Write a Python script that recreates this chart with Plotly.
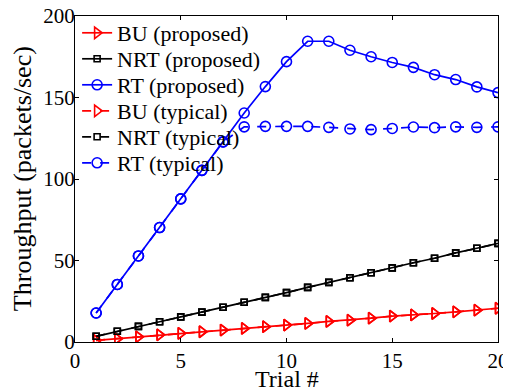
import plotly.graph_objects as go

trials = list(range(1, 21))
bu_proposed = [1.0, 2.0, 3.2, 4.4, 5.3, 6.3, 7.3, 8.3, 9.4, 10.4, 11.4, 12.6, 13.4, 14.6, 15.9, 16.6, 17.5, 18.5, 19.5, 20.7]
nrt_proposed = [3.5, 6.6, 9.6, 12.4, 15.4, 18.3, 21.3, 24.4, 27.4, 30.3, 33.5, 36.6, 39.4, 42.5, 45.5, 48.6, 51.4, 54.7, 57.5, 60.5]
rt_proposed = [17.8, 35.3, 52.8, 70.2, 87.8, 105.3, 122.8, 140.5, 156.7, 172.0, 184.5, 184.5, 179.0, 175.0, 171.5, 168.5, 164.0, 161.0, 156.5, 153.0]
bu_typical = bu_proposed[:]
nrt_typical = nrt_proposed[:]
rt_typical = [17.8, 35.3, 52.8, 70.2, 87.8, 105.3, 122.8, 132.0, 132.3, 132.3, 132.3, 131.7, 130.7, 130.3, 131.0, 131.9, 131.5, 132.0, 131.7, 132.0]

x_title = "Trial #"
y_title = "Throughput (packets/sec)"
x_ticks = [0, 5, 10, 15, 20]
y_ticks = [0, 50, 100, 150, 200]

font_family = "Liberation Serif"

# (name, values, color, symbol, dash, legend row 0..5)
series = [
    ("BU (typical)", bu_typical, "red", "triangle-right-open", "dash", 3),
    ("NRT (typical)", nrt_typical, "black", "square-open", "dash", 4),
    ("RT (typical)", rt_typical, "blue", "circle-open", "dash", 5),
    ("BU (proposed)", bu_proposed, "red", "triangle-right-open", "solid", 0),
    ("NRT (proposed)", nrt_proposed, "black", "square-open", "solid", 1),
    ("RT (proposed)", rt_proposed, "blue", "circle-open", "solid", 2),
]

fig = go.Figure()
for name, vals, color, sym, dash, row in series:
    size = 10 if "circle" in sym else (10 if "triangle" in sym else 6)
    lg = "legend" if row == 0 else "legend%d" % (row + 1)
    fig.add_trace(go.Scatter(
        x=trials, y=vals, name=name, mode="lines+markers",
        line=dict(color=color, width=1.7, dash=dash),
        marker=dict(symbol=sym, size=size, color=color, line=dict(width=1.6, color=color)),
        legend=lg,
    ))

axis_common = dict(
    showline=True, linecolor="black", linewidth=1.2, mirror="ticks",
    ticks="inside", ticklen=4, tickcolor="black", showgrid=False, zeroline=False,
    automargin=False, ticklabeloverflow="allow",
    tickfont=dict(family=font_family, size=21, color="black"),
)

plot_top, plot_bottom = 16, 342
legend_layout = {}
for row in range(6):
    yc = 33.0 + 26 * row
    key = "legend" if row == 0 else "legend%d" % (row + 1)
    legend_layout[key] = dict(
        x=0.005, y=(plot_bottom - yc) / (plot_bottom - plot_top),
        xanchor="left", yanchor="middle",
        bgcolor="rgba(0,0,0,0)", borderwidth=0,
        font=dict(family=font_family, size=22, color="black"),
        itemwidth=30,
    )

fig.update_layout(
    width=503, height=383,
    margin=dict(l=67, r=13, t=8, b=49, autoexpand=False),
    paper_bgcolor="white", plot_bgcolor="white",
    font=dict(family=font_family, color="black"),
    xaxis=dict(range=[0, 20], tickvals=x_ticks, **axis_common),
    yaxis=dict(range=[0, 200], tickvals=y_ticks, ticklabelstandoff=-5, **axis_common),
    showlegend=True,
    annotations=[
        dict(text=x_title, xref="paper", yref="paper", x=0.5, y=-0.112,
             xanchor="center", yanchor="middle", showarrow=False,
             font=dict(family=font_family, size=24, color="black")),
        dict(text=y_title, xref="paper", yref="paper", x=-0.125, y=0.5,
             xanchor="center", yanchor="middle", textangle=-90, showarrow=False,
             font=dict(family=font_family, size=26, color="black")),
    ],
    **legend_layout,
)

fig.write_html("out.html")
